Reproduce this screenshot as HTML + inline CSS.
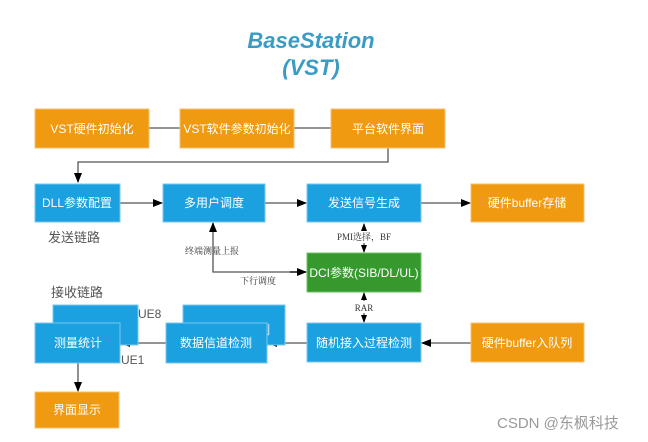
<!DOCTYPE html>
<html><head><meta charset="utf-8"><style>
html,body{margin:0;padding:0;background:#fff;width:648px;height:442px;overflow:hidden}
svg text{font-family:"Liberation Sans","Noto Sans CJK SC",sans-serif}
</style></head><body>
<svg width="648" height="442" viewBox="0 0 648 442" xmlns="http://www.w3.org/2000/svg">
<defs><marker id="a" markerWidth="10" markerHeight="10" refX="9" refY="5" orient="auto" markerUnits="userSpaceOnUse"><path d="M0,1 L10,5 L0,9 z" fill="#000"/></marker>
<marker id="b" markerWidth="8" markerHeight="8" refX="7" refY="4" orient="auto" markerUnits="userSpaceOnUse"><path d="M0,1 L8,4 L0,7 z" fill="#000"/></marker></defs>
<g font-style="italic" font-weight="bold" font-size="22" fill="#3a9cc4" text-anchor="middle">
<text x="311" y="48">BaseStation</text><text x="311" y="75">(VST)</text></g>
<g stroke="#555" stroke-width="1.3" fill="none">
<line x1="149" y1="128" x2="180" y2="128"/><line x1="294" y1="128" x2="331" y2="128"/>
<polyline points="388,148 388,162 78,162 78,182" marker-end="url(#a)"/>
<line x1="120" y1="203" x2="162" y2="203" marker-end="url(#a)"/>
<line x1="265" y1="203" x2="306" y2="203" marker-end="url(#a)"/>
<line x1="421" y1="203" x2="470" y2="203" marker-end="url(#a)"/>
<polyline points="306,272 213,272 213,223" marker-end="url(#a)"/>
<line x1="364" y1="231" x2="364" y2="224" marker-end="url(#b)"/><line x1="364" y1="243" x2="364" y2="252" marker-end="url(#b)"/>
<line x1="364" y1="301" x2="364" y2="293" marker-end="url(#b)"/><line x1="364" y1="313" x2="364" y2="322" marker-end="url(#b)"/>
<line x1="471" y1="343" x2="422" y2="343" marker-end="url(#a)"/>
<line x1="307" y1="343" x2="268" y2="343" marker-end="url(#a)"/>
<line x1="166" y1="343" x2="121" y2="343" marker-end="url(#a)"/>
<line x1="78" y1="363" x2="78" y2="391" marker-end="url(#a)"/>
</g>
<line x1="290" y1="272" x2="306" y2="272" stroke="#000" stroke-width="1.3" marker-end="url(#a)"/>
<g stroke="#f5c070" stroke-width="1">
<rect x="35" y="109" width="114" height="39" fill="#f09a12"/>
<rect x="180" y="109" width="114" height="39" fill="#f09a12"/>
<rect x="331" y="109" width="114" height="39" fill="#f09a12"/>
<rect x="471" y="184" width="113" height="38" fill="#f09a12"/>
<rect x="471" y="323" width="113" height="39" fill="#f09a12"/>
<rect x="35" y="392" width="84" height="36" fill="#f09a12"/>
</g>
<g fill="#fff" font-size="12" text-anchor="middle">
</g>
<g stroke="#7cc6ee" stroke-width="1" fill="#1ba0e0">
<rect x="35" y="184" width="85" height="38"/>
<rect x="163" y="184" width="102" height="38"/>
<rect x="307" y="184" width="114" height="38"/>
<rect x="53" y="305" width="85" height="40"/>
<rect x="183" y="305" width="102" height="40"/>
</g>
<g fill="#fff" font-size="12" text-anchor="middle">
<text x="95" y="334">测量统计</text><text x="234" y="334">数据信道检测</text></g>
<g stroke="#7cc6ee" stroke-width="1" fill="#1ba0e0">
<rect x="35" y="323" width="85" height="40"/>
<rect x="166" y="323" width="101" height="40"/>
<rect x="307" y="323" width="114" height="39"/>
</g>
<rect x="307" y="253" width="114" height="39" fill="#35992e" stroke="#6cc260"/>
<g fill="#fff" font-size="12" text-anchor="middle">
<text x="92" y="133">VST硬件初始化</text><text x="237" y="133">VST软件参数初始化</text><text x="388" y="133">平台软件界面</text>
<text x="77" y="207">DLL参数配置</text><text x="214" y="207">多用户调度</text><text x="364" y="207">发送信号生成</text>
<text x="527" y="207">硬件buffer存储</text><text x="364" y="277">DCI参数(SIB/DL/UL)</text>
<text x="78" y="347">测量统计</text><text x="216" y="347">数据信道检测</text>
<text x="364" y="347">随机接入过程检测</text><text x="527" y="347">硬件buffer入队列</text>
<text x="77" y="414">界面显示</text></g>
<g fill="#555" font-size="13"><text x="48" y="242">发送链路</text><text x="51" y="297">接收链路</text>
<text x="138" y="318" font-size="12">UE8</text><text x="121" y="364" font-size="12">UE1</text></g>
<g fill="#333" font-size="9">
<text x="185" y="254" style="font-family:'Liberation Serif','Noto Serif CJK SC',serif">终端测量上报</text>
<text x="240" y="284" style="font-family:'Liberation Serif','Noto Serif CJK SC',serif">下行调度</text>
<text x="364" y="240" text-anchor="middle" style="font-family:'Liberation Serif','Noto Serif CJK SC',serif">PMI选择，BF</text>
<text x="364" y="311" text-anchor="middle" style="font-family:'Liberation Serif','Noto Serif CJK SC',serif">RAR</text></g>
<text x="497" y="428" fill="#999" font-size="15">CSDN @东枫科技</text>
</svg>
</body></html>
